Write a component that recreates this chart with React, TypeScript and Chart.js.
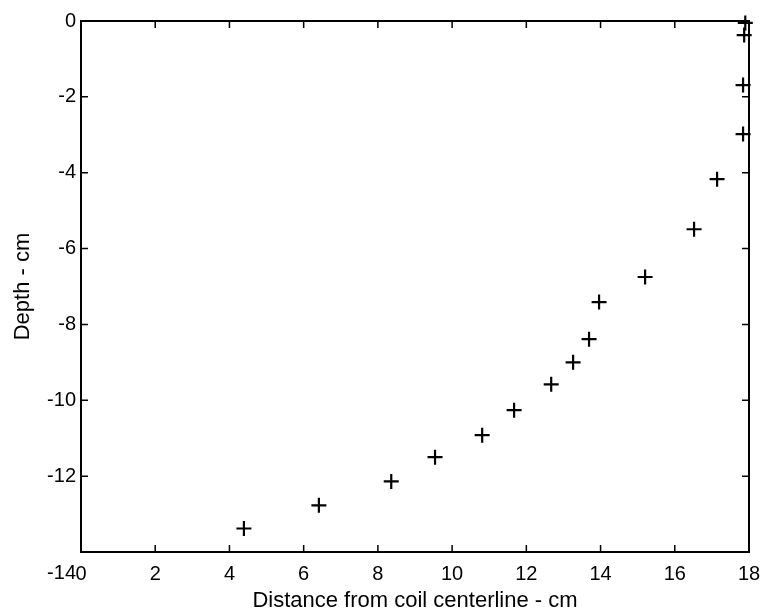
import React, { useEffect, useRef } from "react";
import { Chart, registerables } from "chart.js";

Chart.register(...registerables);

const distanceCm = [4.39, 6.41, 8.36, 9.54, 10.81, 11.67, 12.67, 13.26, 13.69, 13.96, 15.2, 16.52, 17.14, 17.84, 17.84, 17.87, 17.9];
const depthCm = [-13.38, -12.77, -12.14, -11.5, -10.92, -10.26, -9.58, -9.0, -8.39, -7.41, -6.75, -5.49, -4.17, -2.98, -1.69, -0.37, -0.05];

const xMin = 0;
const xMax = 18;
const xStep = 2;
const yMin = -14;
const yMax = 0;
const yStep = 2;

const xTitle = "Distance from coil centerline - cm";
const yTitle = "Depth - cm";

const FONT = "'Liberation Sans', Arial, Helvetica, sans-serif";

const boxPlugin = {
  id: "matlabBox",
  afterDraw(chart: any) {
    const { ctx, chartArea } = chart;
    const { left, right, top, bottom } = chartArea;
    const xs = chart.scales.x;
    const ys = chart.scales.y;
    const len = 7;
    ctx.save();
    ctx.strokeStyle = "#000";
    ctx.lineWidth = 2;
    ctx.strokeRect(left, top, right - left, bottom - top);
    ctx.lineWidth = 1.5;
    ctx.beginPath();
    xs.ticks.forEach((t: any) => {
      const px = xs.getPixelForValue(t.value);
      ctx.moveTo(px, bottom);
      ctx.lineTo(px, bottom - len);
      ctx.moveTo(px, top);
      ctx.lineTo(px, top + len);
    });
    ys.ticks.forEach((t: any) => {
      const py = ys.getPixelForValue(t.value);
      ctx.moveTo(left, py);
      ctx.lineTo(left + len, py);
      ctx.moveTo(right, py);
      ctx.lineTo(right - len, py);
    });
    ctx.stroke();
    ctx.restore();
  },
};

export default function App() {
  const ref = useRef<HTMLCanvasElement | null>(null);

  useEffect(() => {
    if (!ref.current) return;
    const points = distanceCm.map((x, i) => ({ x, y: depthCm[i] }));
    const chart = new Chart(ref.current, {
      type: "scatter",
      data: {
        datasets: [
          {
            data: points,
            pointStyle: "cross",
            pointRadius: 7.5,
            pointBorderWidth: 2.2,
            borderColor: "#000",
            backgroundColor: "#000",
            clip: false,
          } as any,
        ],
      },
      options: {
        responsive: false,
        animation: false,
        events: [],
        layout: { padding: { top: 21, right: 11, left: 0, bottom: 0 } },
        plugins: {
          legend: { display: false },
          tooltip: { enabled: false },
        },
        scales: {
          x: {
            type: "linear",
            min: xMin,
            max: xMax,
            afterFit: (s: any) => {
              s.height = 62;
              s.paddingLeft = 0;
              s.paddingRight = 0;
            },
            grid: { display: false, drawTicks: false },
            border: { display: false },
            ticks: {
              stepSize: xStep,
              autoSkip: false,
              maxRotation: 0,
              padding: 10,
              color: "#000",
              font: { family: FONT, size: 20 },
            },
            title: {
              display: true,
              text: xTitle,
              color: "#000",
              font: { family: FONT, size: 22 },
              padding: { top: 0, bottom: 0 },
            },
          },
          y: {
            type: "linear",
            min: yMin,
            max: yMax,
            afterFit: (s: any) => {
              s.width = 81;
              s.paddingTop = 0;
              s.paddingBottom = 0;
            },
            grid: { display: false, drawTicks: false },
            border: { display: false },
            ticks: {
              stepSize: yStep,
              autoSkip: false,
              padding: 5,
              color: "#000",
              callback: (v: any) => (v === yMin ? ["", String(v)] : String(v)),
              font: (c: any) =>
                c.tick && c.tick.value === yMin
                  ? { family: FONT, size: 20, lineHeight: "42px" }
                  : { family: FONT, size: 20 },
            },
            title: {
              display: true,
              text: yTitle,
              color: "#000",
              font: { family: FONT, size: 22 },
              padding: { top: 10, bottom: 0 },
            },
          },
        },
      },
      plugins: [boxPlugin],
    });
    return () => chart.destroy();
  }, []);

  return (
    <div style={{ position: "fixed", left: 0, top: 0, width: 760, height: 614, background: "#fff" }}>
      <canvas ref={ref} width={760} height={614} />
    </div>
  );
}
